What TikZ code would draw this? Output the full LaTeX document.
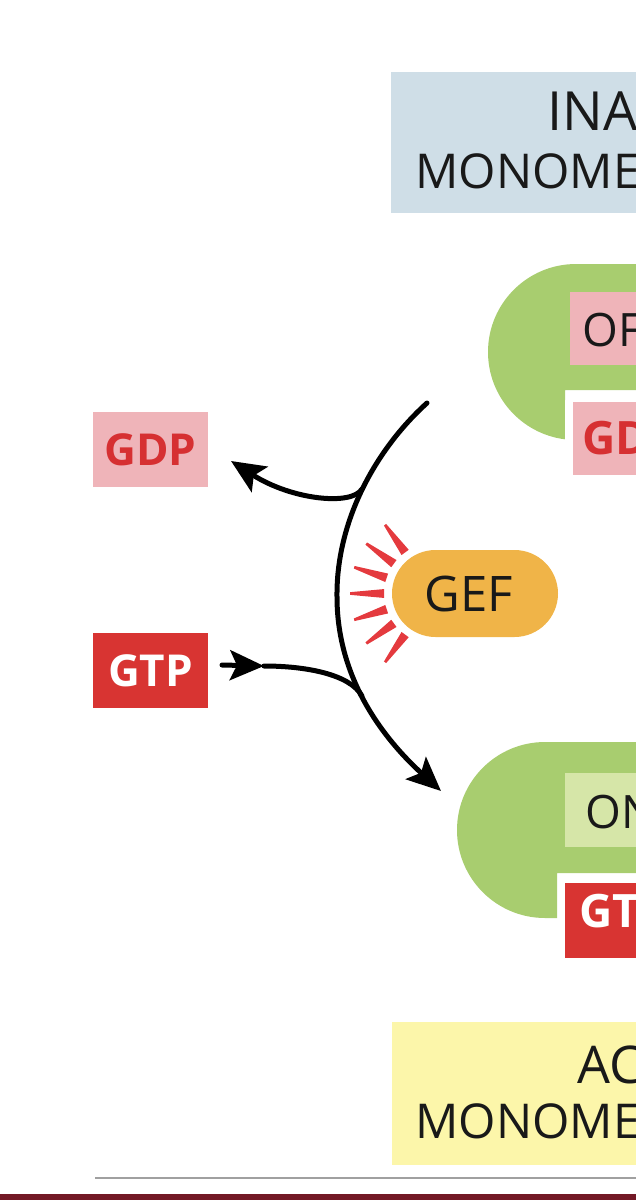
\documentclass[tikz,border=0pt]{standalone}
\usepackage{fontspec}
\setmainfont{Open Sans}
\usetikzlibrary{arrows.meta}
\definecolor{hdrblue}{RGB}{207,222,231}
\definecolor{hdryellow}{RGB}{252,246,170}
\definecolor{protgreen}{RGB}{168,205,111}
\definecolor{offpink}{RGB}{239,180,185}
\definecolor{gdpred}{RGB}{214,48,50}
\definecolor{gtpred}{RGB}{216,52,50}
\definecolor{onlight}{RGB}{214,230,168}
\definecolor{gefor}{RGB}{240,180,72}
\definecolor{raycol}{RGB}{228,58,62}
\definecolor{txtblack}{RGB}{25,25,25}
\definecolor{rulegray}{RGB}{160,160,160}
\definecolor{maroon}{RGB}{115,25,38}
\begin{document}
\begin{tikzpicture}[x=1pt,y=-1pt,
  hdrA/.style={inner sep=0pt, anchor=base west, text=txtblack, font=\fontsize{54}{58}\selectfont},
  hdrC/.style={inner sep=0pt, anchor=base west, text=txtblack, font=\fontsize{52}{56}\selectfont},
  hdrB/.style={inner sep=0pt, anchor=base west, text=txtblack, font=\fontsize{48}{52}\selectfont},
  stlbl/.style={inner sep=0pt, anchor=base west, text=txtblack, font=\fontsize{46}{50}\selectfont},
  nucl/.style={inner sep=0pt, anchor=base west, font=\bfseries\fontsize{46}{50}\selectfont},
  nucbox/.style={inner sep=0pt, minimum width=115pt, minimum height=75pt, font=\bfseries\fontsize{44}{48}\selectfont},
  pill/.style={fill=gefor, minimum width=166pt, minimum height=87pt, rounded corners=43.5pt, inner sep=0pt},
  flow/.style={line width=5pt, black, line cap=round},
  tip/.style={-{Stealth[length=34pt, width=30pt, inset=7pt]}}
]
\useasboundingbox (0,0) rectangle (636,1200);
\begin{scope}
\clip (0,0) rectangle (636,1200);

% header boxes
\fill[hdrblue] (391,72) rectangle (640,213);
\node[hdrA] (inact1) at (547.5,130) {INACTIVE};
\node[hdrB] (inact2) at (415.3,188) {MONOMERIC GTPase};

\fill[hdryellow] (392,1022) rectangle (640,1165);
\node[hdrC] (act1) at (577,1083) {ACTIVE};
\node[hdrB] (act2) at (415.3,1138) {MONOMERIC GTPase};

% OFF protein
\fill[protgreen] (640,264) -- (576,264) arc[start angle=270, end angle=97.2, radius=88]
  -- (565,390) -- (640,390) -- cycle;
\node[fill=offpink, minimum width=70pt, minimum height=73pt, inner sep=0pt] (offbox) at (605,328.5) {};
\node[stlbl] (offtxt) at (582,346) {OFF};
\node[fill=offpink, minimum width=67pt, minimum height=73pt, inner sep=0pt] (gdpRbox) at (606.5,438.5) {};
\node[nucl, text=gdpred] (gdpR) at (582,454) {GDP};

% ON protein
\fill[protgreen] (640,742) -- (545,742) arc[start angle=270, end angle=90, radius=88]
  -- (557,918) -- (557,873) -- (640,873) -- cycle;
\node[fill=onlight, minimum width=75pt, minimum height=74pt, inner sep=0pt] (onbox) at (602.5,810) {};
\node[stlbl] (ontxt) at (585,828) {ON};
\node[fill=gtpred, minimum width=75pt, minimum height=75pt, inner sep=0pt] (gtpRbox) at (602.5,920.5) {};
\node[nucl, text=white] (gtpR) at (579,927) {GTP};

% free nucleotides
\node[nucbox, fill=offpink, text=gdpred] (gdpL) at (150.5,449.5) {GDP};
\node[nucbox, fill=gtpred, text=white] (gtpL) at (150.5,670.5) {GTP};

% GEF
\node[pill] (gef) at (475,593.5) {};
\node[inner sep=0pt, text=txtblack, font=\fontsize{49}{52}\selectfont, xshift=-6pt] (geftxt) at (gef.center) {GEF};
\begin{scope}[shift={(435,593.5)}]
  \foreach \a in {126,144,...,234}
    \fill[raycol] (\a+5:51) -- (\a+0.9:85) -- (\a-0.9:85) -- (\a-5:51) -- cycle;
\end{scope}

% arrows
\coordinate (mtop) at (427,403);
\coordinate (mmid) at (337,597);
\coordinate (mbot) at (441,791);
\coordinate (jgdp) at (362,489);
\coordinate (gdptip) at (231,461);
\coordinate (jgtp) at (362,696);
\coordinate (gtpstart) at (222,665);
\coordinate (gtptip) at (264,666);

\draw[flow, tip] (mtop) .. controls (375,450) and (336,522) .. (mmid)
  .. controls (337,680) and (385,740) .. (mbot);
\draw[flow, tip] (jgdp) .. controls (352,506) and (292,500) .. (gdptip);
\draw[flow, tip] (gtpstart) -- (gtptip);
\draw[flow] (gtptip) .. controls (305,666) and (350,674) .. (jgtp);

% bottom rules
\draw[rulegray, line width=2pt] (95,1178) -- (640,1178);
\fill[maroon] (0,1194) rectangle (640,1200);
\end{scope}
\end{tikzpicture}
\end{document}
